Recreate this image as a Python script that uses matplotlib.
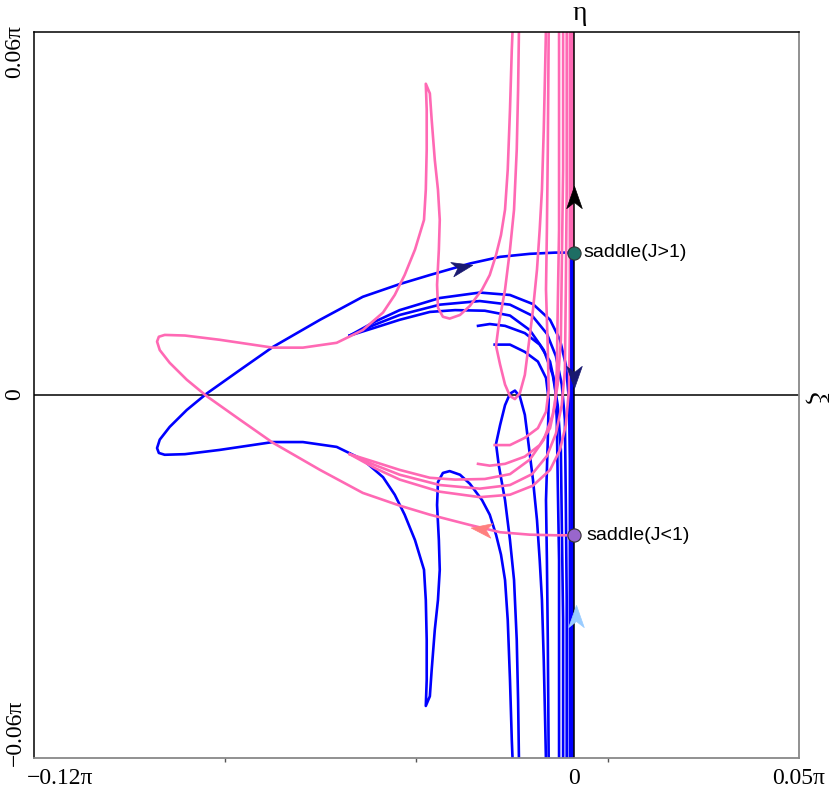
import matplotlib
matplotlib.use("Agg")
import matplotlib.pyplot as plt
from matplotlib.markers import MarkerStyle
from matplotlib.path import Path
from matplotlib.transforms import Affine2D

# all coordinates in units of 0.01*pi  (xi, eta)

# ── saddle points ──
saddle_hi = (0.0, 2.35)    # J>1
saddle_lo = (0.0, -2.32)   # J<1

# ── main manifold branch (leaves saddle to the left, big loop, spike, tongue) ──
main_x = [0.00, -0.42, -0.98, -1.64, -2.31, -3.20, -3.87, -4.69, -5.64, -6.69,
          -7.42, -8.16, -8.60, -8.98, -9.20, -9.26, -9.22, -9.09, -8.64, -7.87, -6.69,
          -6.02, -5.27, -4.69, -4.24, -3.98, -3.76, -3.53, -3.33, -3.29, -3.27,
          -3.27, -3.29, -3.20, -3.16, -3.09, -3.02, -2.98, -3.00, -3.04, -3.02,
          -2.91, -2.76, -2.53, -2.31, -2.04, -1.87, -1.73, -1.62, -1.53, -1.47,
          -1.42, -1.38, -1.36]
blue_main_y = [2.35, 2.35, 2.33, 2.28, 2.17, 1.98, 1.83, 1.62, 1.24, 0.79,
               0.41, 0.02, -0.25, -0.53, -0.74, -0.88, -0.96, -0.99, -0.98, -0.91, -0.78,
               -0.78, -0.86, -1.07, -1.36, -1.65, -1.98, -2.40, -2.89, -3.39, -4.05,
               -4.71, -5.14, -4.98, -4.55, -3.88, -3.39, -2.89, -2.40, -1.82, -1.44,
               -1.29, -1.26, -1.32, -1.47, -1.74, -1.98, -2.31, -2.64, -3.06, -3.72,
               -4.71, -5.70, -6.07]
pink_main_y = [-2.32, -2.32, -2.31, -2.27, -2.15, -1.98, -1.83, -1.62, -1.24, -0.79,
               -0.41, -0.02, 0.25, 0.53, 0.74, 0.88, 0.96, 0.99, 0.98, 0.91, 0.78,
               0.78, 0.86, 1.07, 1.36, 1.65, 1.98, 2.40, 2.89, 3.39, 4.05,
               4.71, 5.14, 4.98, 4.55, 3.88, 3.39, 2.89, 2.40, 1.82, 1.44,
               1.29, 1.26, 1.32, 1.47, 1.74, 1.98, 2.31, 2.64, 3.06, 3.72,
               4.71, 5.70, 6.07]

# ── second tongue next to the axis ──
t2_x = [-1.22, -1.24, -1.27, -1.33, -1.42, -1.53, -1.67, -1.73, -1.64, -1.53, -1.42,
        -1.31, -1.20, -1.09, -1.02, -0.91, -0.82, -0.76, -0.71, -0.67, -0.64, -0.62]
blue_t2_y = [-6.07, -5.04, -4.05, -3.06, -2.40, -1.74, -1.16, -0.81, -0.50, -0.17, 0.02,
             0.07, -0.03, -0.33, -0.74, -1.40, -2.07, -2.73, -3.39, -4.38, -5.37, -6.07]
pink_t2_y = [6.07, 5.04, 4.05, 3.06, 2.40, 1.74, 1.16, 0.81, 0.50, 0.17, -0.02,
             -0.07, 0.03, 0.33, 0.74, 1.40, 2.07, 2.73, 3.39, 4.38, 5.37, 6.07]

# ── folded arcs accumulating on the axis ──
a1_x = [-4.98, -4.42, -3.87, -2.98, -2.09, -1.42, -0.91, -0.53, -0.31, -0.18,
        -0.11, -0.09, -0.09, -0.09, -0.09]
blue_a1_y = [0.98, 1.21, 1.40, 1.60, 1.69, 1.65, 1.50, 1.24, 0.91, 0.50,
             -0.08, -1.07, -2.73, -4.38, -6.07]
pink_a1_y = [-0.98, -1.21, -1.40, -1.60, -1.69, -1.65, -1.50, -1.24, -0.91, -0.50,
             0.08, 1.07, 2.73, 4.38, 6.07]

a2_x = [-4.98, -4.42, -3.87, -2.98, -2.09, -1.42, -0.93, -0.60, -0.40, -0.27,
        -0.20, -0.18, -0.16, -0.16]
blue_a2_y = [0.98, 1.16, 1.32, 1.49, 1.55, 1.49, 1.31, 1.01, 0.64, 0.17,
             -0.41, -1.74, -3.39, -6.07]
pink_a2_y = [-0.98, -1.16, -1.32, -1.49, -1.55, -1.49, -1.31, -1.01, -0.64, -0.17,
             0.41, 1.74, 3.39, 6.07]

a3_x = [-4.98, -4.42, -3.87, -3.20, -2.64, -1.98, -1.42, -0.98, -0.67, -0.47,
        -0.36, -0.29, -0.27, -0.24, -0.24]
blue_a3_y = [0.98, 1.11, 1.24, 1.37, 1.40, 1.39, 1.31, 1.07, 0.74, 0.33,
             -0.17, -0.91, -2.07, -3.72, -6.07]
pink_a3_y = [-0.98, -1.11, -1.24, -1.37, -1.40, -1.39, -1.31, -1.07, -0.74, -0.33,
             0.17, 0.91, 2.07, 3.72, 6.07]

a4_x = [-2.13, -1.87, -1.53, -1.09, -0.76, -0.53, -0.42, -0.38, -0.36, -0.33, -0.33]
blue_a4_y = [1.14, 1.17, 1.14, 1.02, 0.83, 0.55, 0.17, -0.41, -1.40, -2.73, -6.07]
pink_a4_y = [-1.14, -1.17, -1.14, -1.02, -0.83, -0.55, -0.17, 0.41, 1.40, 2.73, 6.07]

a5_x = [-1.76, -1.42, -1.09, -0.80, -0.62, -0.56, -0.58, -0.62, -0.60, -0.58, -0.56]
blue_a5_y = [0.83, 0.83, 0.71, 0.55, 0.28, -0.08, -0.74, -1.74, -2.73, -4.05, -6.07]
pink_a5_y = [-0.83, -0.83, -0.71, -0.55, -0.28, 0.08, 0.74, 1.74, 2.73, 4.05, 6.07]

# ── colours ──
C_BLUE = "#0000ff"
C_PINK = "#ff69b4"

fig = plt.figure(figsize=(8.3, 7.96), dpi=100)
W, H = 830, 796
ax = fig.add_axes([33.7 / W, 1 - 758 / H, (799 - 33.7) / W, (758 - 31.7) / H])
ax.set_xlim(-12, 5)
ax.set_ylim(-6, 6)

blue_set = [(main_x, blue_main_y), (t2_x, blue_t2_y), (a1_x, blue_a1_y),
            (a2_x, blue_a2_y), (a3_x, blue_a3_y), (a4_x, blue_a4_y), (a5_x, blue_a5_y)]
pink_set = [(main_x, pink_main_y), (t2_x, pink_t2_y), (a1_x, pink_a1_y),
            (a2_x, pink_a2_y), (a3_x, pink_a3_y), (a4_x, pink_a4_y), (a5_x, pink_a5_y)]

for xs, ys in blue_set:
    ax.plot(xs, ys, color=C_BLUE, lw=1.9, solid_joinstyle="round", zorder=2)
for xs, ys in pink_set:
    ax.plot(xs, ys, color=C_PINK, lw=1.9, solid_joinstyle="round", zorder=2.1)

# manifolds lying on the eta axis
ax.plot([-0.05, -0.05], [saddle_lo[1], 6.1], color=C_PINK, lw=2.8, zorder=2.2)
ax.plot([-0.05, -0.05], [saddle_hi[1], -6.1], color=C_BLUE, lw=2.8, zorder=2.3)

# coordinate axes
ax.axhline(0, color="black", lw=1.1, zorder=1.5)
ax.axvline(0, color="black", lw=1.1, zorder=2.4)

# arrow heads (notched)
head = Path([(0, 1), (-0.7, -1), (0, -0.45), (0.7, -1), (0, 1)],
            [Path.MOVETO, Path.LINETO, Path.LINETO, Path.LINETO, Path.CLOSEPOLY])


def arrow(x, y, ang, col, size=16):
    m = MarkerStyle(head, transform=Affine2D().rotate_deg(ang))
    ax.plot([x], [y], marker=m, ms=size, color=col, mec=col, mew=0.5, zorder=4)


arrow(0.0, 3.27, 0, "black")
arrow(0.0, 0.30, 180, "#191970")
arrow(0.05, -3.65, 0, "#99ccff")
arrow(-2.49, 2.12, -78, "#191970", 15)
arrow(-2.07, -2.21, 82, "#ff7f7f", 15)

# saddles
ax.plot(*saddle_hi, "o", ms=9.5, color="#1e6e64", mec="#333333", mew=0.8, zorder=5)
ax.plot(*saddle_lo, "o", ms=9.5, color="#9966cc", mec="#333333", mew=0.8, zorder=5)
ax.text(0.22, saddle_hi[1], "saddle(J>1)", fontsize=14, family="Liberation Sans",
        ha="left", va="center", zorder=6)
ax.text(0.28, saddle_lo[1], "saddle(J<1)", fontsize=14, family="Liberation Sans",
        ha="left", va="center", zorder=6)

# frame
for side in ["top", "left"]:
    ax.spines[side].set_color("black")
    ax.spines[side].set_linewidth(1.1)
for side in ["bottom", "right"]:
    ax.spines[side].set_color("#888888")
    ax.spines[side].set_linewidth(1.3)
ax.set_xticks([-7.75, -3.5, 0.75])
ax.set_xticklabels([])
ax.set_yticks([])
ax.tick_params(axis="x", length=3, width=1, color="#555555")

# tick labels and axis names (serif)
serif = dict(family="Liberation Serif", fontsize=17)
fig.text(27 / W, 1 - 779 / H, "\u22120.12\u03c0", ha="left", va="center", **serif)
fig.text(574 / W, 1 - 779 / H, "0", ha="center", va="center", **serif)
fig.text(799 / W, 1 - 779 / H, "0.05\u03c0", ha="center", va="center", **serif)
fig.text(15 / W, 1 - 25 / H, "0.06\u03c0", ha="center", va="top", rotation=90, **serif)
fig.text(15 / W, 1 - 394 / H, "0", ha="center", va="center", rotation=90, **serif)
fig.text(15 / W, 1 - 766 / H, "\u22120.06\u03c0", ha="center", va="bottom", rotation=90, **serif)
fig.text(580 / W, 1 - 14 / H, "\u03b7", ha="center", va="center",
         family="Liberation Serif", fontsize=20)
fig.text(815 / W, 1 - 398 / H, "\u03be", ha="center", va="center", rotation=-90,
         family="Liberation Serif", fontsize=20)

fig.savefig("out.png", dpi=100, facecolor="white")
